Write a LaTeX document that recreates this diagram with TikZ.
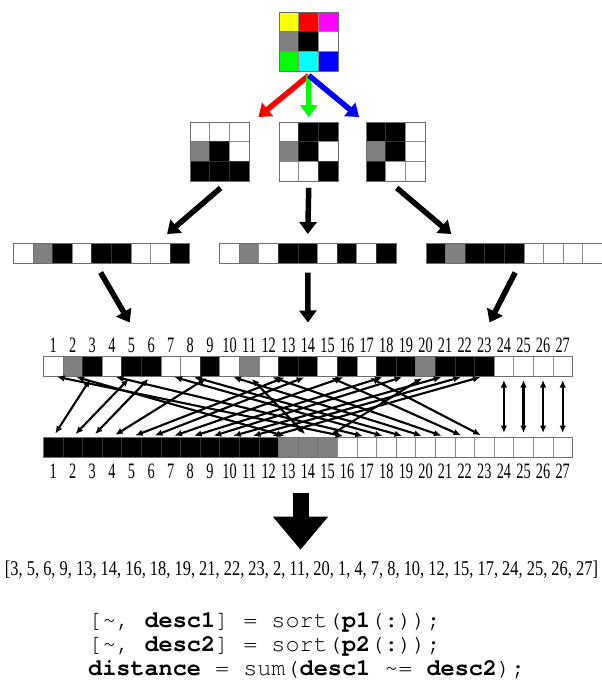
\documentclass[tikz,border=0pt]{standalone}
\usepackage{fontspec}
\setmainfont{Liberation Serif}
\setmonofont{TeX Gyre Cursor}
\usetikzlibrary{arrows.meta,calc}
\definecolor{cborder}{HTML}{8A8A8A}
\definecolor{K}{RGB}{0,0,0}\definecolor{W}{RGB}{255,255,255}\definecolor{G}{HTML}{808080}
\colorlet{bK}{black!80}\colorlet{bW}{cborder}\colorlet{bG}{cborder!85!black}
\definecolor{Y}{RGB}{255,255,0}\definecolor{R}{RGB}{255,0,0}\definecolor{M}{RGB}{255,0,255}
\definecolor{N}{RGB}{0,255,0}\definecolor{C}{RGB}{0,255,255}\definecolor{U}{RGB}{0,0,255}
\colorlet{bY}{cborder}\colorlet{bR}{cborder}\colorlet{bM}{cborder}
\colorlet{bN}{cborder}\colorlet{bC}{cborder}\colorlet{bU}{cborder}
\newcommand\gridcells[4]{%
  \foreach \c [count=\i from 0] in {#4} {%
    \pgfmathsetmacro\cx{#2+9.9+19.8*mod(\i,3)}%
    \pgfmathsetmacro\cy{#3+9.9+19.8*int(\i/3)}%
    \node[gcell, fill=\c, draw=b\c] (#1\i) at (\cx,\cy) {};
  }%
  \node[frame, minimum width=59.4pt, minimum height=59.4pt] (#1) at (#2+29.7,#3+29.7) {};
}
\newcommand\stripcells[5]{%
  \foreach \c [count=\i] in {#5} {%
    \pgfmathsetmacro\cx{#2+9.8+19.6*(\i-1)}%
    \node[scell, fill=\c, draw=b\c] (#1\i) at (\cx,#3+10) {};
  }%
  \pgfmathsetmacro\fw{19.6*#4}%
  \node[frame, minimum width=\fw pt, minimum height=20pt] (#1) at (#2+9.8*#4,#3+10) {};
}
\begin{document}
\begin{tikzpicture}[x=1pt,y=-1pt,
  gcell/.style={line width=0.8pt, minimum width=19.8pt, minimum height=19.8pt, inner sep=0pt, outer sep=0pt},
  scell/.style={line width=0.8pt, minimum width=19.6pt, minimum height=20pt, inner sep=0pt, outer sep=0pt},
  frame/.style={draw=cborder!80!black, line width=1pt, inner sep=0pt, outer sep=0pt},
  fat/.style={line width=5.5pt, -{Triangle[width=17pt,length=12pt]}},
  link/.style={line width=2.1pt, {Latex[length=7.5pt,width=6.5pt]}-{Latex[length=7.5pt,width=6.5pt]}, shorten <=4pt, shorten >=4pt},
  lab/.style={font=\fontsize{22}{22}\selectfont, inner sep=0pt, anchor=base},
  code/.style={font=\ttfamily\fontsize{23.5}{24}\selectfont, inner sep=0pt, anchor=base west}
]
\useasboundingbox[fill=white] (0,0) rectangle (602,686);

% colour image and channels
\gridcells{rgb}{279}{12}{Y,R,M,G,K,W,N,C,U}
\gridcells{gR}{190}{122}{W,W,W,G,K,W,K,K,K}
\gridcells{gG}{279}{122}{W,K,K,G,K,W,W,W,K}
\gridcells{gB}{366}{122}{K,K,W,G,K,W,K,W,W}

\draw[fat, draw=R] ($(rgb.south)+(0,4)$) -- ($(gR.north east)+(9,-5)$);
\draw[fat, draw=N] ($(rgb.south)+(0,4)$) -- ($(gG.north)+(0,-5)$);
\draw[fat, draw=U] ($(rgb.south)+(0,4)$) -- ($(gB.north west)+(-7,-5)$);

% flattened channels
\stripcells{sR}{13.4}{243}{9}{W,G,K,W,K,K,W,W,K}
\stripcells{sG}{219.6}{243}{9}{W,G,W,K,K,W,K,W,K}
\stripcells{sB}{426}{243}{9}{K,G,K,K,K,W,W,W,W}

\draw[fat] ($(gR.south)+(1,6.5)$) -- ($(sR.north)+(65.5,-9)$);
\draw[fat] ($(gG.south)+(0,6.5)$) -- ($(sG.north)+(0,-9)$);
\draw[fat] ($(gB.south)+(1,6.5)$) -- ($(sB.north)+(-63,-9)$);

% concatenated vectors
\stripcells{t}{43.3}{356}{27}{W,G,K,W,K,K,W,W,K,W,G,W,K,K,W,K,W,K,K,G,K,K,K,W,W,W,W}
\stripcells{b}{43.3}{437}{27}{K,K,K,K,K,K,K,K,K,K,K,K,G,G,G,W,W,W,W,W,W,W,W,W,W,W,W}

\draw[fat] ($(sR.south)+(-1,9.5)$) -- (129.7,322.5);
\draw[fat] ($(sG.south)+(0,9.5)$) -- (307.9,322.5);
\draw[fat] ($(sB.south)+(1,9.5)$) -- (489.5,322.5);

\foreach \i in {1,...,27} {
  \pgfmathsetmacro\cx{43.3+9.8+19.6*(\i-1)}
  \node[lab] (tl\i) at (\cx,352) {\scalebox{0.65}[1]{\i}};
  \node[lab] (bl\i) at (\cx,478) {\scalebox{0.65}[1]{\i}};
}

\foreach \d [count=\k] in {3,5,6,9,13,14,16,18,19,21,22,23,2,11,20,1,4,7,8,10,12,15,17,24,25,26,27}
  \draw[link] (t\d.south) -- (b\k.north);

% result
\node[inner sep=0pt, anchor=base] (lst) at (301.5,575)
  {\resizebox{593pt}{\height}{\fontsize{21}{21}\selectfont [3, 5, 6, 9, 13, 14, 16, 18, 19, 21, 22, 23, 2, 11, 20, 1, 4, 7, 8, 10, 12, 15, 17, 24, 25, 26, 27]}};
\draw[line width=16pt, -{Triangle[width=53pt,length=33pt]}] ($(lst.north)+(-1,-67.5)$) -- ($(lst.north)+(-1,-10.5)$);

\node[code] (c1) at (88,627) {[\textasciitilde, \textbf{desc1}] = sort(\textbf{p1}(:));};
\node[code] (c2) at (88,651) {[\textasciitilde, \textbf{desc2}] = sort(\textbf{p2}(:));};
\node[code] (c3) at (88,675) {\textbf{distance} = sum(\textbf{desc1} \textasciitilde= \textbf{desc2});};
\end{tikzpicture}
\end{document}
